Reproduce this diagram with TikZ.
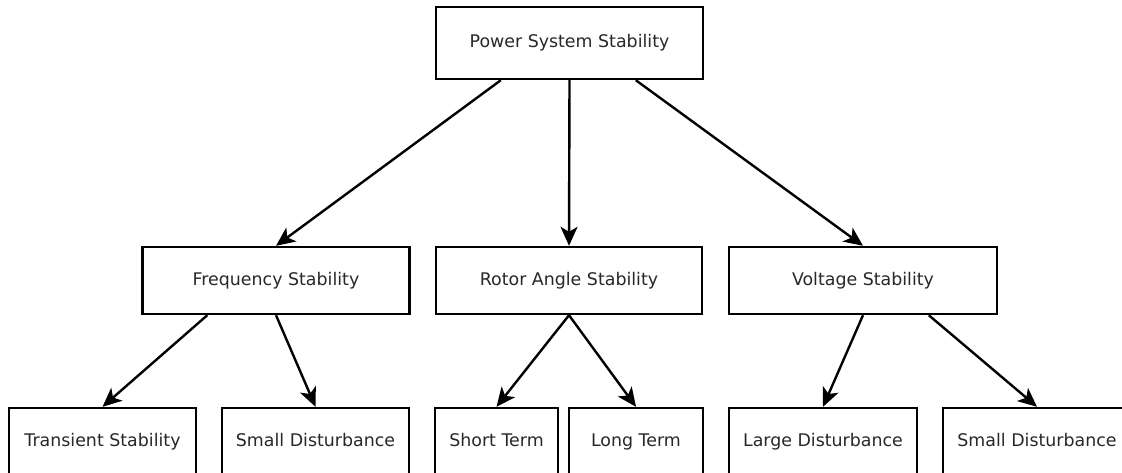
\documentclass[tikz,border=0pt]{standalone}
\usepackage{fontspec}
\setmainfont{DejaVu Sans}
\usetikzlibrary{arrows.meta,calc}
\definecolor{txt}{RGB}{40,40,40}
\begin{document}
\begin{tikzpicture}[x=1pt,y=-1pt,
  box/.style={draw=black,line width=2.4pt,fill=white,rectangle,inner sep=0pt,
    text=txt,font=\fontsize{17.4}{20}\selectfont,text height=12.7pt,text depth=3.6pt},
  topbox/.style={box,minimum height=72pt},
  midbox/.style={box,minimum height=67pt},
  botbox/.style={box,minimum height=68pt},
  conn/.style={draw=black,line width=2.4pt,-{Stealth[length=19pt,width=17pt,inset=5pt]}}]
\useasboundingbox (0,0) rectangle (1122,472);
\clip (0,0) rectangle (1122,472);
\node[topbox,minimum width=267pt] (top) at (569.5,43) {Power System Stability};
\node[midbox,minimum width=267pt] (freq) at (276,280.5) {Frequency Stability};
\node[midbox,minimum width=266pt] (rotor) at (569,280.5) {Rotor Angle Stability};
\node[midbox,minimum width=268pt] (volt) at (863,280.5) {Voltage Stability};
\node[botbox,minimum width=187pt] (trans) at (102.5,442) {Transient Stability};
\node[botbox,minimum width=187pt] (sdA) at (315.5,442) {Small Disturbance};
\node[botbox,minimum width=123pt] (short) at (496.5,442) {Short Term};
\node[botbox,minimum width=134pt] (long) at (636,442) {Long Term};
\node[botbox,minimum width=188pt] (large) at (823,442) {Large Disturbance};
\node[botbox,minimum width=188pt] (sdB) at (1037,442) {Small Disturbance};
\draw[conn] ($(top.south west)+(66,0)$) -- (freq.north);
\draw[conn] (top.south) -- (rotor.north);
\draw[conn] ($(top.south west)+(201,0)$) -- (volt.north);
\draw[conn] ($(freq.south west)+(66,0)$) -- (trans.north);
\draw[conn] (freq.south) -- (sdA.north);
\draw[conn] (rotor.south) -- (short.north);
\draw[conn] (rotor.south) -- (long.north);
\draw[conn] (volt.south) -- (large.north);
\draw[conn] ($(volt.south west)+(201,0)$) -- (sdB.north);
\end{tikzpicture}
\end{document}
